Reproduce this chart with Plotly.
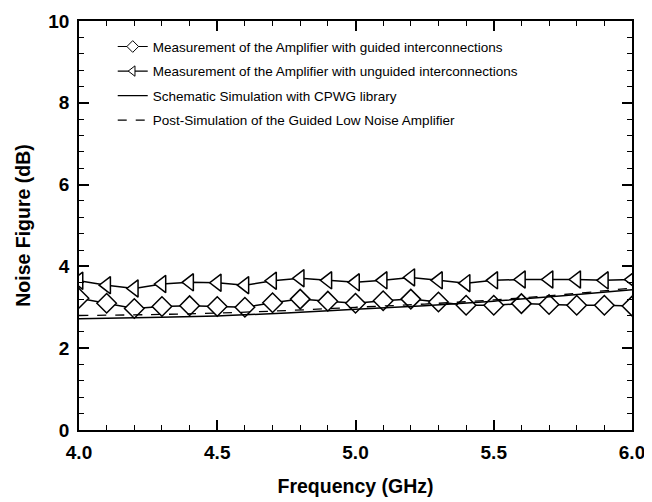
import plotly.graph_objects as go

freq = [4.0, 4.1, 4.2, 4.3, 4.4, 4.5, 4.6, 4.7, 4.8, 4.9, 5.0,
        5.1, 5.2, 5.3, 5.4, 5.5, 5.6, 5.7, 5.8, 5.9, 6.0]
guided = [3.22, 3.10, 2.97, 3.02, 3.04, 3.02, 3.00, 3.11, 3.20, 3.15, 3.10,
          3.16, 3.20, 3.13, 3.05, 3.05, 3.09, 3.07, 3.05, 3.05, 3.03]
unguided = [3.65, 3.54, 3.46, 3.57, 3.61, 3.60, 3.54, 3.65, 3.71, 3.66, 3.61,
            3.66, 3.73, 3.66, 3.59, 3.66, 3.68, 3.68, 3.68, 3.66, 3.68]

sim_freq = [4.0, 4.25, 4.5, 4.75, 5.0, 5.25, 5.5, 5.75, 6.0]
schematic = [2.72, 2.75, 2.79, 2.86, 2.95, 3.04, 3.15, 3.28, 3.43]
post_sim = [2.80, 2.82, 2.86, 2.92, 3.00, 3.08, 3.18, 3.31, 3.47]

names = ["Measurement of the Amplifier with guided interconnections",
         "Measurement of the Amplifier with unguided interconnections",
         "Schematic Simulation with CPWG library",
         "Post-Simulation of the Guided Low Noise Amplifier"]

FONT = "Liberation Sans, Arial, sans-serif"

fig = go.Figure()
fig.add_trace(go.Scatter(
    x=freq, y=guided, mode="lines+markers", showlegend=False,
    line=dict(color="black", width=1.5),
    marker=dict(symbol="diamond", size=15, color="white",
                line=dict(color="black", width=1.5))))
fig.add_trace(go.Scatter(
    x=freq, y=unguided, mode="lines+markers", showlegend=False,
    line=dict(color="black", width=1.5),
    marker=dict(symbol="triangle-left", size=15, color="white",
                line=dict(color="black", width=1.5))))
fig.add_trace(go.Scatter(
    x=sim_freq, y=schematic, mode="lines", line_shape="spline",
    showlegend=False, line=dict(color="black", width=1.5)))
fig.add_trace(go.Scatter(
    x=sim_freq, y=post_sim, mode="lines", line_shape="spline",
    showlegend=False, line=dict(color="black", width=1.3, dash="dash")))

# legend entries with smaller markers
fig.add_trace(go.Scatter(
    x=[None], y=[None], mode="lines+markers", name=names[0], legendgroup="a",
    line=dict(color="black", width=1.2),
    marker=dict(symbol="diamond", size=9, color="white",
                line=dict(color="black", width=1))))
fig.add_trace(go.Scatter(
    x=[None], y=[None], mode="lines+markers", name=names[1], legendgroup="b",
    line=dict(color="black", width=1.2),
    marker=dict(symbol="triangle-left", size=9, color="white",
                line=dict(color="black", width=1))))
fig.add_trace(go.Scatter(
    x=[None], y=[None], mode="lines", name=names[2], legendgroup="c",
    line=dict(color="black", width=1.2)))
fig.add_trace(go.Scatter(
    x=[None], y=[None], mode="lines", name=names[3], legendgroup="d",
    line=dict(color="black", width=1.2, dash="dash")))

axis_common = dict(
    showline=True, linecolor="black", linewidth=1.5, mirror="allticks",
    ticks="inside", ticklen=10, tickwidth=1.5, tickcolor="black",
    showgrid=False, zeroline=False, automargin=False, ticklabelstandoff=4,
    tickfont=dict(family=FONT, size=19, color="black", weight="bold"),
)

fig.update_xaxes(
    range=[4.0, 6.0], dtick=0.5, tickformat=".1f",
    minor=dict(dtick=0.1, ticks="inside", ticklen=5, tickcolor="black",
               tickwidth=1.2),
    title=dict(text="Frequency (GHz)", standoff=18,
               font=dict(family=FONT, size=19.5, color="black", weight="bold")),
    **axis_common)
fig.update_yaxes(
    range=[0, 10], dtick=2,
    minor=dict(dtick=0.4, ticks="inside", ticklen=5, tickcolor="black",
               tickwidth=1.2),
    title=dict(text="Noise Figure (dB)", standoff=12,
               font=dict(family=FONT, size=19.5, color="black", weight="bold")),
    **axis_common)

fig.update_layout(
    width=644, height=494,
    margin=dict(l=71, r=20, t=13, b=72),
    plot_bgcolor="white", paper_bgcolor="white",
    showlegend=True,
    legend=dict(x=0.061, y=0.975, xanchor="left", yanchor="top",
                bgcolor="rgba(0,0,0,0)", tracegroupgap=4,
                font=dict(family=FONT, size=13.5, color="black")),
)

fig.write_html("out.html")
